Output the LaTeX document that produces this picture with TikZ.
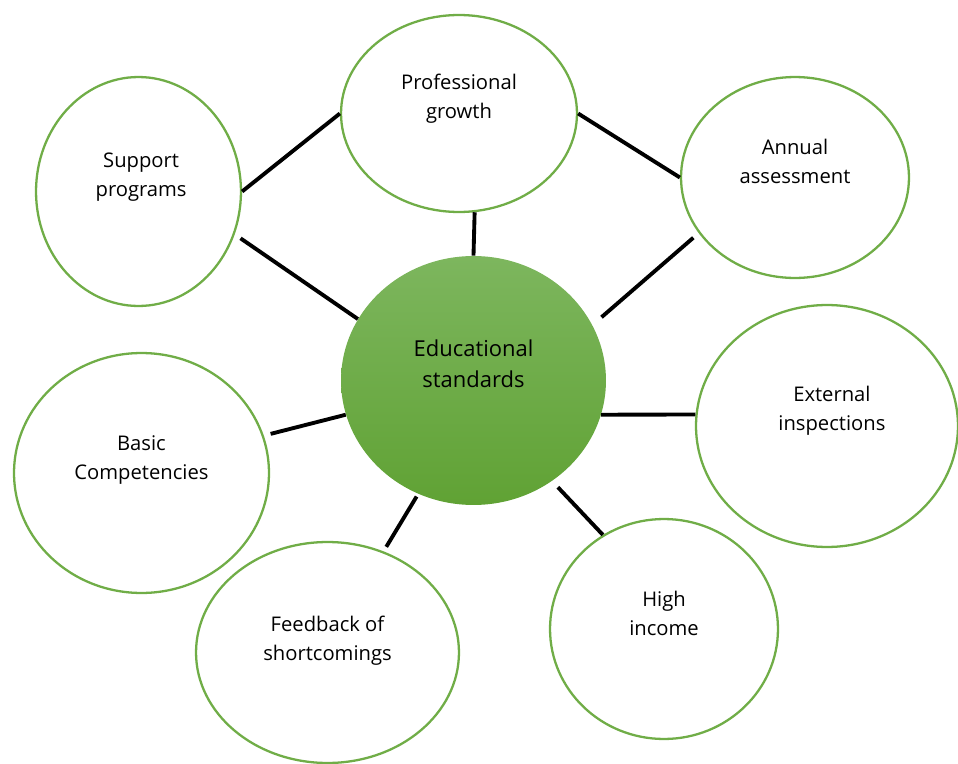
\documentclass[tikz,border=0pt]{standalone}
\usepackage{fontspec}
\setmainfont{Open Sans}
\usetikzlibrary{shapes.geometric}

\definecolor{ringgreen}{RGB}{112,173,71}
\definecolor{hubtop}{RGB}{125,182,94}
\definecolor{hubbottom}{RGB}{96,162,52}

\begin{document}
\begin{tikzpicture}[x=0.02cm,y=-0.02cm,
    bubble/.style={ellipse, draw=ringgreen, line width=1.3pt, fill=white, inner sep=0pt},
    hub/.style={ellipse, inner sep=0pt, top color=hubtop, bottom color=hubbottom},
    words/.style={align=center, inner sep=0pt, font=\fontsize{11.5}{16.5}\selectfont},
    link/.style={line width=2.2pt, black}]
    \useasboundingbox (0,0) rectangle (958,764);

    % centre and the seven bubbles round it
    \node[hub, minimum width=5.30cm, minimum height=4.98cm] (edu) at (473.5,380.5) {};
    \node[bubble, minimum width=4.72cm, minimum height=3.94cm] (prof) at (459,113.5) {};
    \node[bubble, minimum width=4.56cm, minimum height=4.02cm] (ann) at (795,177.5) {};
    \node[bubble, minimum width=4.10cm, minimum height=4.58cm] (sup) at (138.5,191.5) {};
    \node[bubble, minimum width=5.10cm, minimum height=4.80cm] (basic) at (141.5,473) {};
    \node[bubble, minimum width=5.24cm, minimum height=4.84cm] (ext) at (827,426) {};
    \node[bubble, minimum width=5.26cm, minimum height=4.42cm] (feed) at (327.5,652.5) {};
    \node[bubble, minimum width=4.56cm, minimum height=4.40cm] (high) at (664,629) {};

    % texts sit a little above each centre
    \node[words, font=\fontsize{12.5}{17.6}\selectfont] at ([yshift=9.7pt]edu.center) {Educational\\standards};
    \node[words] at ([yshift=8.3pt]prof.center) {Professional\\growth};
    \node[words] at ([yshift=9.1pt]ann.center) {Annual\\assessment};
    \node[words] at ([xshift=1.5pt, yshift=8pt]sup.center) {Support\\programs};
    \node[words] at ([yshift=7.5pt]basic.center) {Basic\\Competencies};
    \node[words] at ([xshift=2.8pt, yshift=8.6pt]ext.center) {External\\inspections};
    \node[words] at ([yshift=6.5pt]feed.center) {Feedback of\\shortcomings};
    \node[words] at ([yshift=9.1pt]high.center) {High\\income};

    % connectors
    \draw[link] (sup.0) -- (prof.180);
    \draw[link] (prof.0) -- (ann.180);
    \draw[link, shorten <=4pt] (sup.-24) -- (edu.152);
    \draw[link] (prof.-81) -- (edu.90);
    \draw[link, shorten <=4pt, shorten >=6.8pt] (ann.210) -- (edu.25);
    \draw[link] (edu.-15) -- (ext.175);
    \draw[link, shorten <=4.8pt] (edu.-52) -- (high.123);
    \draw[link, shorten <=1.7pt, shorten >=3pt] (edu.244) -- (feed.61);
    \draw[link, shorten <=4pt] (basic.17) -- (edu.195);
\end{tikzpicture}
\end{document}
